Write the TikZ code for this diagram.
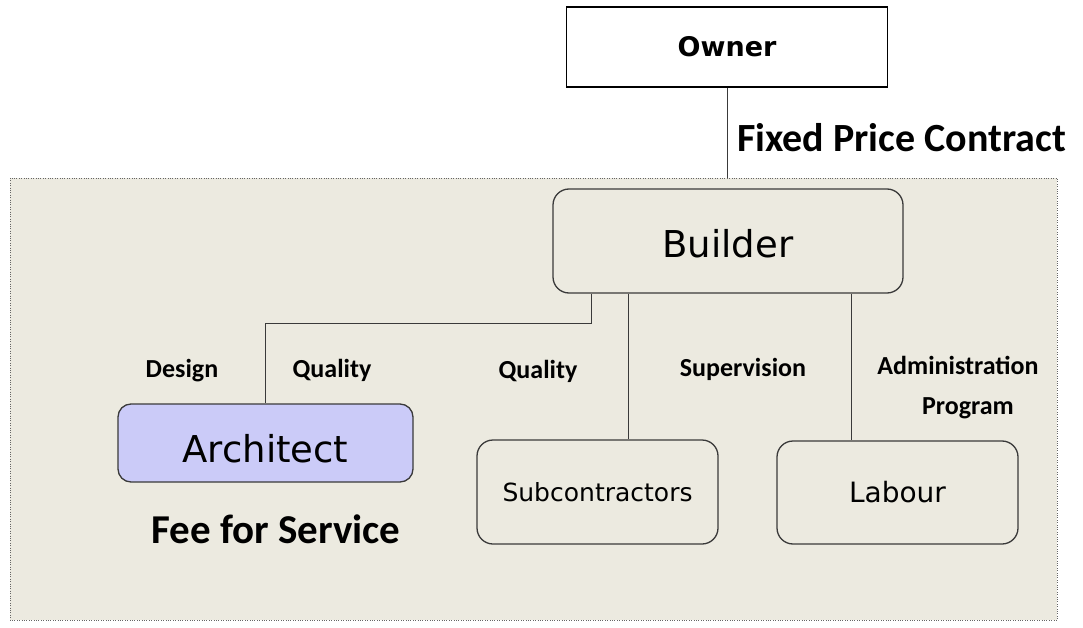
\documentclass[tikz,border=0pt]{standalone}
\usepackage{fontspec}
\setmainfont{Carlito}
\newfontfamily\boxfont{DejaVu Sans}
\usetikzlibrary{positioning}
\definecolor{panel}{HTML}{ECEAE0}
\definecolor{archfill}{HTML}{CBCBF8}
\definecolor{edge}{HTML}{3A3A3A}

\begin{document}
\begin{tikzpicture}[x=1pt, y=-1pt,
    party/.style={draw=edge, line width=1.3pt, rounded corners=16pt, fill=panel, font=\boxfont, inner sep=0pt},
    link/.style={draw=edge, line width=1pt},
    tag/.style={font=\bfseries\fontsize{26}{28}\selectfont, anchor=base, inner sep=0pt}]
    \useasboundingbox (0,0) rectangle (1083,628);
    % builder's side
    \draw[draw=gray!80!black, dotted, fill=panel] (10,178) rectangle (1057,620);
    \coordinate (top) at (727,178);
    \coordinate (elbow) at (591,323);

    \node[draw=black, line width=1.2pt, fill=white, minimum width=321pt, minimum height=80pt, inner sep=0pt,
          font=\boxfont\bfseries\fontsize{27}{30}\selectfont] (owner) at (727,47) {Owner};
    \node[party, minimum width=350pt, minimum height=104pt, text height=34pt, text depth=0pt,
          font=\boxfont\fontsize{37}{40}\selectfont] (builder) at (728,241) {Builder};
    \node[party, fill=archfill, rounded corners=13pt, minimum width=295pt, minimum height=78pt, text height=38pt, text depth=0pt,
          font=\boxfont\fontsize{37}{40}\selectfont] (architect) at (265.5,443) {Architect};
    \node[party, minimum width=241pt, minimum height=104pt, font=\boxfont\fontsize{25}{28}\selectfont] (subs) at (597.5,492) {Subcontractors};
    \node[party, minimum width=241pt, minimum height=103pt, font=\boxfont\fontsize{28}{30}\selectfont] (labour) at (897.5,492.5) {Labour};

    \node[font=\bfseries\fontsize{40}{44}\selectfont, anchor=base west, inner sep=0pt] (fixed) at (737,152) {Fixed Price Contract};
    \node[font=\bfseries\fontsize{41}{44}\selectfont, anchor=base, inner sep=0pt] (fee) at (276,543) {Fee for Service};

    \node[tag] (design) at (182,377) {Design};
    \node[tag] (quality1) at (332,377) {Quality};
    \node[tag] (quality2) at (538,378) {Quality};
    \node[tag] (superv) at (743,376) {Supervision};
    \node[tag] (admin) at (958,374) {Administration};
    \node[tag] (program) at (968,414) {Program};

    \draw[link] (owner) -- (top);
    \draw[link] (builder.south -| elbow) -- (elbow) -- (architect.north |- elbow) -- (architect.north);
    \draw[link] (builder.south -| 628,0) -- (subs.north -| 628,0);
    \draw[link] (builder.south -| 851,0) -- (labour.north -| 851,0);
\end{tikzpicture}
\end{document}
